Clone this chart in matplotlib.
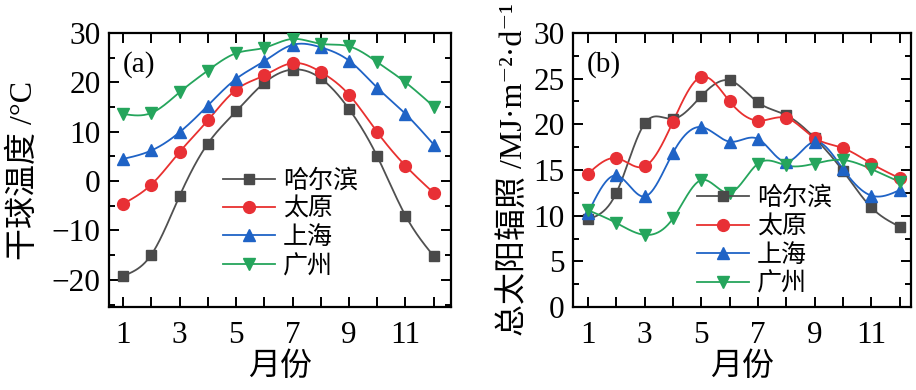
import numpy as np
import matplotlib
matplotlib.use("Agg")
import matplotlib.pyplot as plt
from matplotlib.ticker import MultipleLocator, FixedLocator

plt.rcParams['font.family'] = ['Liberation Serif', 'Noto Sans CJK SC', 'DejaVu Serif']

months = [1, 2, 3, 4, 5, 6, 7, 8, 9, 10, 11, 12]
cities = ['哈尔滨', '太原', '上海', '广州']

# dry-bulb temperature, degC
temp_harbin = [-19.2, -14.9, -3.0, 7.6, 14.1, 19.9, 22.6, 20.8, 14.6, 5.0, -7.0, -15.2]
temp_taiyuan = [-4.6, -0.7, 5.9, 12.3, 18.5, 21.4, 23.9, 22.1, 17.5, 9.9, 3.1, -2.4]
temp_shanghai = [4.5, 6.2, 9.9, 15.3, 20.7, 24.3, 27.6, 27.1, 24.4, 18.9, 13.6, 7.4]
temp_guangzhou = [13.6, 13.8, 18.0, 22.4, 25.9, 27.0, 28.8, 27.8, 27.3, 24.1, 20.0, 15.1]

# total solar irradiation, MJ m-2 d-1
rad_harbin = [9.6, 12.5, 20.1, 20.6, 23.1, 24.8, 22.4, 21.0, 18.5, 14.9, 10.9, 8.8]
rad_taiyuan = [14.6, 16.3, 15.4, 20.3, 25.2, 22.5, 20.4, 20.7, 18.5, 17.4, 15.7, 14.1]
rad_shanghai = [10.3, 14.4, 12.1, 16.9, 19.7, 18.1, 18.4, 15.9, 18.1, 15.1, 12.2, 12.8]
rad_guangzhou = [10.6, 9.2, 7.9, 9.7, 13.9, 12.5, 15.7, 15.5, 15.7, 16.1, 15.1, 13.7]

colors = ['#505050', '#e8302f', '#1f63c6', '#25a55c']
mcolors = ['#4a4a4a', '#e83035', '#1f63c6', '#25a55c']
markers = ['s', 'o', '^', 'v']
msizes = [7, 8.5, 8, 8]


def spline(x, y, n=400):
    # natural cubic spline used only to draw the smooth connecting line
    x = np.asarray(x, float); y = np.asarray(y, float)
    k = len(x); h = np.diff(x)
    A = np.zeros((k, k)); r = np.zeros(k)
    A[0, 0] = A[-1, -1] = 1
    for i in range(1, k - 1):
        A[i, i - 1] = h[i - 1]; A[i, i] = 2 * (h[i - 1] + h[i]); A[i, i + 1] = h[i]
        r[i] = 3 * ((y[i + 1] - y[i]) / h[i] - (y[i] - y[i - 1]) / h[i - 1])
    c = np.linalg.solve(A, r)
    xs = np.linspace(x[0], x[-1], n)
    idx = np.clip(np.searchsorted(x, xs) - 1, 0, k - 2)
    dx = xs - x[idx]
    b = (y[1:] - y[:-1]) / h - h * (2 * c[:-1] + c[1:]) / 3
    d = (c[1:] - c[:-1]) / (3 * h)
    ys = y[idx] + b[idx] * dx + c[idx] * dx ** 2 + d[idx] * dx ** 3
    return xs, ys


fig = plt.figure(figsize=(9.16, 3.9), dpi=100)
ax1 = fig.add_axes([0.119, 0.2128, 0.373, 0.7026])
ax2 = fig.add_axes([0.6256, 0.2128, 0.3689, 0.7026])

panels = [
    (ax1, [temp_harbin, temp_taiyuan, temp_shanghai, temp_guangzhou]),
    (ax2, [rad_harbin, rad_taiyuan, rad_shanghai, rad_guangzhou]),
]

for ax, series in panels:
    for vals, name, c, mc, m, ms in zip(series, cities, colors, mcolors, markers, msizes):
        xs, ys = spline(months, vals)
        ax.plot(xs, ys, color=c, lw=1.3, zorder=2)
        ax.plot(months, vals, ls='none', marker=m, ms=ms, color=mc, zorder=3)
        ax.plot([], [], color=c, lw=1.3, marker=m, ms=ms, mfc=mc, mec=mc, label=name)
    ax.xaxis.set_major_locator(FixedLocator(months))
    ax.set_xticklabels([str(mo) if mo % 2 else '' for mo in months])
    ax.tick_params(which='both', direction='in', top=True, right=True, width=1.4,
                   labelsize=22.5, pad=6)
    ax.tick_params(axis='x', pad=10)
    ax.tick_params(which='major', length=7)
    ax.tick_params(which='minor', length=4)
    for s in ax.spines.values():
        s.set_linewidth(1.6)
    ax.set_xlabel('月份', fontsize=23, labelpad=2)
    ax.legend(frameon=False, fontsize=18, handlelength=2.1, handletextpad=0.3,
              labelspacing=0.22, borderpad=0, borderaxespad=0, loc='upper left')

ax1.set_xlim(0.5, 12.6)
ax1.set_ylim(-25.5, 30)
ax1.yaxis.set_major_locator(MultipleLocator(10))
ax1.yaxis.set_minor_locator(MultipleLocator(5))
ax1.set_ylabel('干球温度 /°C', fontsize=23, labelpad=9)
ax1.legend_.set_bbox_to_anchor((0.333, 0.505))
ax1.text(0.04, 0.885, '(a)', transform=ax1.transAxes, fontsize=21, va='center', ha='left')

ax2.set_xlim(0.47, 12.4)
ax2.set_ylim(0, 30)
ax2.yaxis.set_major_locator(MultipleLocator(5))
ax2.yaxis.set_minor_locator(MultipleLocator(2.5))
ax2.set_ylabel('总太阳辐照 /MJ·m⁻²·d⁻¹', fontsize=23, labelpad=3)
ax2.legend_.set_bbox_to_anchor((0.366, 0.44))
ax2.text(0.04, 0.885, '(b)', transform=ax2.transAxes, fontsize=21, va='center', ha='left')

fig.savefig('out.png', dpi=100)
